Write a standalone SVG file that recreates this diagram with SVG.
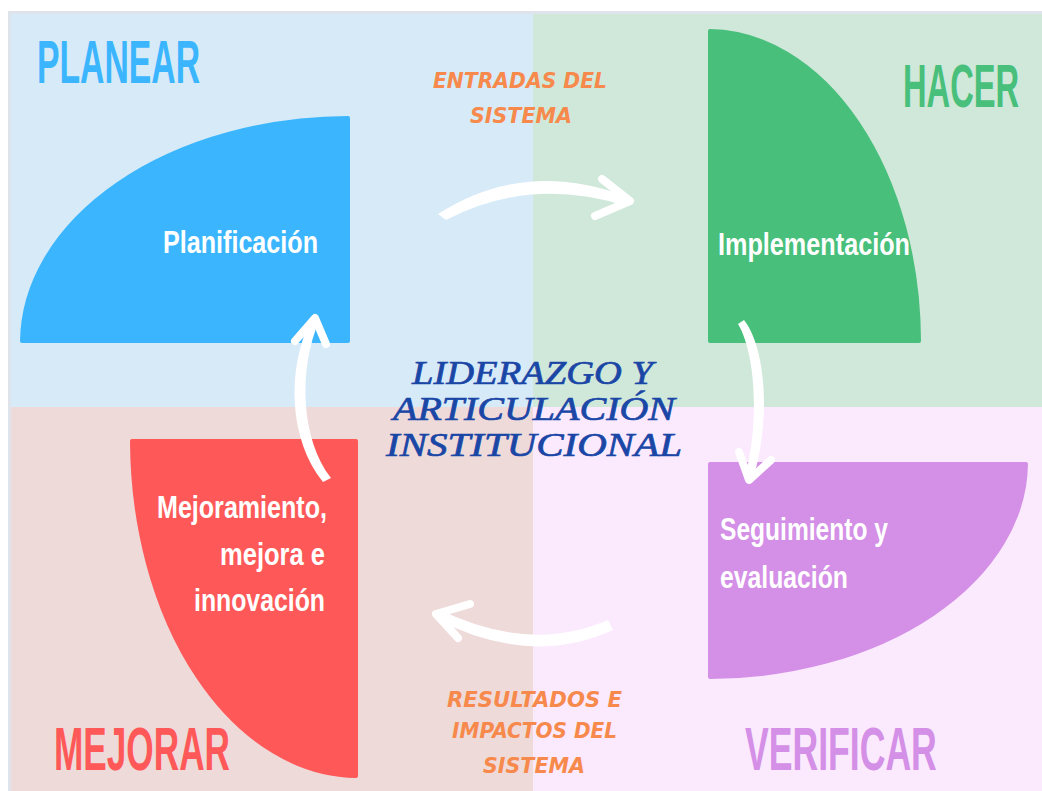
<svg xmlns="http://www.w3.org/2000/svg" width="1042" height="791" viewBox="0 0 1042 791">
<style>
.title{font-family:"Liberation Sans Narrow","Liberation Sans",Arial,sans-serif;font-weight:bold;font-size:62px}
.lbl{font-family:"Liberation Sans Narrow","Liberation Sans",Arial,sans-serif;font-weight:bold;font-size:31px;fill:#ffffff}
.center{font-family:"Liberation Serif","Times New Roman",serif;font-style:italic;font-size:34px;fill:#1a46a6;stroke:#1a46a6;stroke-width:0.7}
.hand{font-family:"DejaVu Sans",sans-serif;font-style:oblique;font-weight:bold;font-size:21px;fill:#f6894b}
.arrowbody{fill:#ffffff}
.arrowhead{fill:none;stroke:#ffffff;stroke-width:8;stroke-linecap:round;stroke-linejoin:round}
.shape{stroke-width:4;stroke-linejoin:round}
</style>
<rect x="0" y="0" width="1042" height="791" fill="#ffffff"/>
<rect x="8" y="11" width="1034" height="780" fill="#dfe3ec"/>
<g id="backgrounds">
<rect x="11" y="14" width="522" height="393" fill="#d7eaf8"/>
<rect x="533" y="14" width="509" height="393" fill="#cfe8da"/>
<rect x="11" y="407" width="522" height="384" fill="#efdada"/>
<rect x="533" y="407" width="509" height="384" fill="#fbe9fe"/>
</g>
<g id="planear">
<path class="shape" d="M22,341 A328,225 0 0 1 348,118 L348,341 Z" fill="#3bb6fe" stroke="#3bb6fe"/>
<text class="title" x="37" y="83" textLength="163" lengthAdjust="spacingAndGlyphs" fill="#3bb6fe">PLANEAR</text>
<text class="lbl" x="163" y="253" textLength="155" lengthAdjust="spacingAndGlyphs">Planificación</text>
</g>
<g id="hacer">
<path class="shape" d="M710,31 A211,311 0 0 1 919,341 L710,341 Z" fill="#48bf7b" stroke="#48bf7b"/>
<text class="title" transform="translate(903,107) scale(0.53,1)" x="0" y="0" textLength="219" lengthAdjust="spacingAndGlyphs" fill="#48bf7b">HACER</text>
<text class="lbl" x="718" y="255" textLength="192" lengthAdjust="spacingAndGlyphs">Implementación</text>
</g>
<g id="verificar">
<path class="shape" d="M710,464 L1026,464 A318,215 0 0 1 710,677 Z" fill="#d48fe6" stroke="#d48fe6"/>
<text class="title" transform="translate(745,770) scale(0.556,1)" x="0" y="0" textLength="345" lengthAdjust="spacingAndGlyphs" fill="#d48fe6" font-size="64">VERIFICAR</text>
<text class="lbl" x="720" y="540" textLength="168" lengthAdjust="spacingAndGlyphs">Seguimiento y</text>
<text class="lbl" x="720" y="588" textLength="128" lengthAdjust="spacingAndGlyphs">evaluación</text>
</g>
<g id="mejorar">
<path class="shape" d="M132,441 L356,441 L356,776 A226,337 0 0 1 132,441 Z" fill="#fe5958" stroke="#fe5958"/>
<text class="title" x="54" y="770" textLength="176" lengthAdjust="spacingAndGlyphs" fill="#fe5958">MEJORAR</text>
<text class="lbl" x="157" y="518" textLength="170" lengthAdjust="spacingAndGlyphs">Mejoramiento,</text>
<text class="lbl" x="220" y="565" textLength="105" lengthAdjust="spacingAndGlyphs">mejora e</text>
<text class="lbl" x="194" y="611" textLength="131" lengthAdjust="spacingAndGlyphs">innovación</text>
</g>
<g id="centro">
<text class="center" x="412" y="384" textLength="241" lengthAdjust="spacingAndGlyphs">LIDERAZGO Y</text>
<text class="center" x="393" y="420" textLength="282" lengthAdjust="spacingAndGlyphs">ARTICULACIÓN</text>
<text class="center" x="386" y="456" textLength="296" lengthAdjust="spacingAndGlyphs">INSTITUCIONAL</text>
</g>
<g id="etiquetas">
<text class="hand" x="433" y="88" textLength="174" lengthAdjust="spacingAndGlyphs">ENTRADAS DEL</text>
<text class="hand" x="470" y="123" textLength="102" lengthAdjust="spacingAndGlyphs">SISTEMA</text>
<text class="hand" x="447" y="707" textLength="175" lengthAdjust="spacingAndGlyphs">RESULTADOS E</text>
<text class="hand" x="452" y="738" textLength="165" lengthAdjust="spacingAndGlyphs">IMPACTOS DEL</text>
<text class="hand" x="483" y="773" textLength="102" lengthAdjust="spacingAndGlyphs">SISTEMA</text>
</g>
<g id="connectors">
<path class="arrowbody" d="M438,214 Q525,158 628,197 L626,206 Q530,176 446,220 Z"/>
<polyline class="arrowhead" points="602,179 630,201 595,216"/>
<path class="arrowbody" d="M738,324 C755,352 760,420 745,477 L753,479 C771,420 766,348 744,320 Z"/>
<polyline class="arrowhead" points="739,452 749,480 771,460"/>
<path class="arrowbody" d="M608,620 Q530,654 438,609 L434,618 Q530,668 613,630 Z"/>
<polyline class="arrowhead" points="470,604 436,614 458,638"/>
<path class="arrowbody" d="M323,482 C289,440 286,370 311,319 L319,321 C298,370 301,440 331,478 Z"/>
<polyline class="arrowhead" points="295,341 315,318 326,344"/>
</g>
</svg>
